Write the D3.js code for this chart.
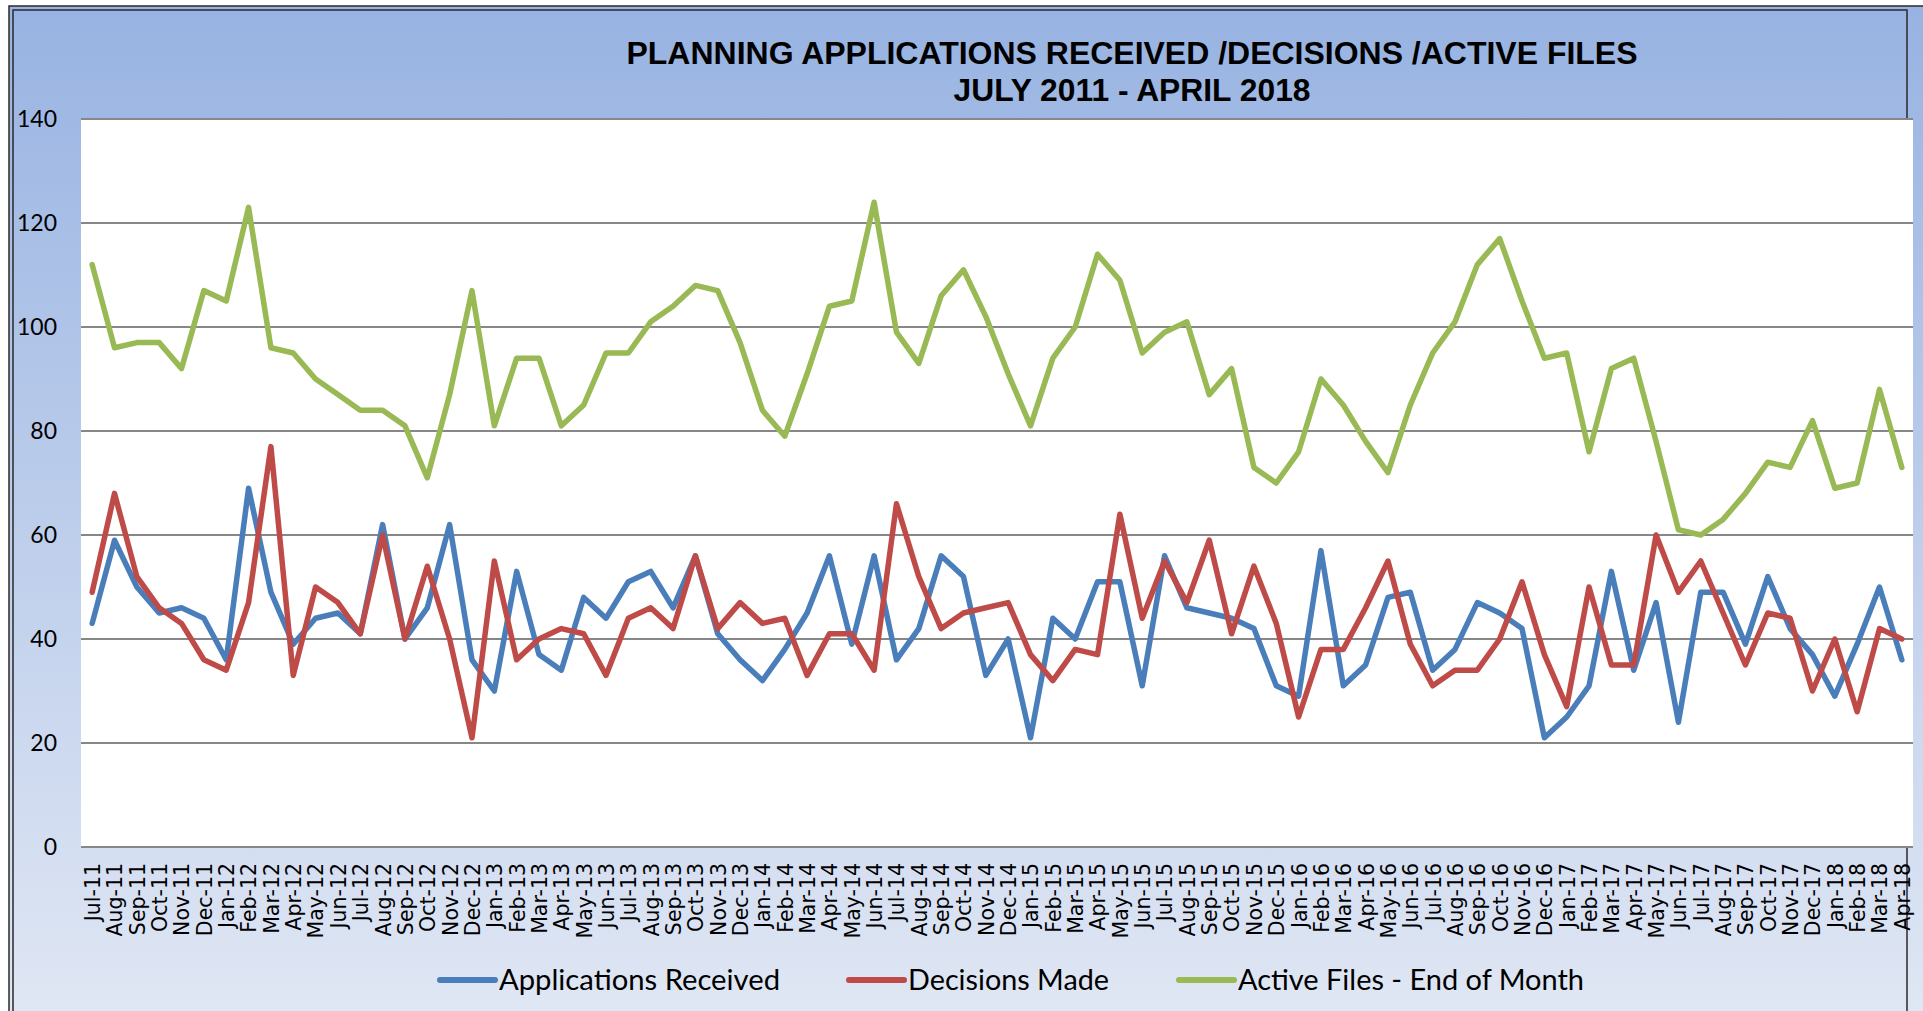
<!DOCTYPE html>
<html>
<head>
<meta charset="utf-8">
<script src="https://cdn.jsdelivr.net/npm/d3@7"></script>
<style>
  html, body { margin: 0; padding: 0; background: #ffffff; overflow: hidden; }
</style>
</head>
<body>
<div id="chart"></div>
<script>
// data
const months = ["Jul-11","Aug-11","Sep-11","Oct-11","Nov-11","Dec-11",
    "Jan-12","Feb-12","Mar-12","Apr-12","May-12","Jun-12","Jul-12","Aug-12","Sep-12","Oct-12","Nov-12","Dec-12",
    "Jan-13","Feb-13","Mar-13","Apr-13","May-13","Jun-13","Jul-13","Aug-13","Sep-13","Oct-13","Nov-13","Dec-13",
    "Jan-14","Feb-14","Mar-14","Apr-14","May-14","Jun-14","Jul-14","Aug-14","Sep-14","Oct-14","Nov-14","Dec-14",
    "Jan-15","Feb-15","Mar-15","Apr-15","May-15","Jun-15","Jul-15","Aug-15","Sep-15","Oct-15","Nov-15","Dec-15",
    "Jan-16","Feb-16","Mar-16","Apr-16","May-16","Jun-16","Jul-16","Aug-16","Sep-16","Oct-16","Nov-16","Dec-16",
    "Jan-17","Feb-17","Mar-17","Apr-17","May-17","Jun-17","Jul-17","Aug-17","Sep-17","Oct-17","Nov-17","Dec-17",
    "Jan-18","Feb-18","Mar-18","Apr-18"];

const applicationsReceived = [43,59,50,45,46,44, 36,69,49,39,44,45,41,62,40,46,62,36,
    30,53,37,34,48,44,51,53,46,56,41,36, 32,38,45,56,39,56,36,42,56,52,33,40,
    21,44,40,51,51,31,56,46,45,44,42,31, 29,57,31,35,48,49,34,38,47,45,42,21,
    25,31,53,34,47,24,49,49,39,52,42,37, 29,39,50,36];

const decisionsMade = [49,68,52,46,43,36, 34,47,77,33,50,47,41,60,40,54,40,21,
    55,36,40,42,41,33,44,46,42,56,42,47, 43,44,33,41,41,34,66,52,42,45,46,47,
    37,32,38,37,64,44,55,47,59,41,54,43, 25,38,38,46,55,39,31,34,34,40,51,37,
    27,50,35,35,60,49,55,45,35,45,44,30, 40,26,42,40];

const activeFiles = [112,96,97,97,92,107, 105,123,96,95,90,87,84,84,81,71,87,107,
    81,94,94,81,85,95,95,101,104,108,107,97, 84,79,91,104,105,124,99,93,106,111,102,91,
    81,94,100,114,109,95,99,101,87,92,73,70, 76,90,85,78,72,85,95,101,112,117,105,94,
    95,76,92,94,78,61,60,63,68,74,73,82, 69,70,88,73];

const yTicks = [0,20,40,60,80,100,120,140];
const seriesNames = ["Applications Received","Decisions Made","Active Files - End of Month"];
const titleLines = ["PLANNING APPLICATIONS RECEIVED /DECISIONS /ACTIVE FILES","JULY 2011 - APRIL 2018"];

const outerWidth = 1923;
const outerHeight = 1011;
const plot = {left: 81, right: 1913, top: 119, bottom: 847};

const svg = d3.select("#chart")
    .append("svg")
    .attr("width", outerWidth)
    .attr("height", outerHeight);

// background gradient
const defs = svg.append("defs");
const grad = defs.append("linearGradient")
    .attr("id", "bg")
    .attr("x1", 0).attr("y1", 0).attr("x2", 0).attr("y2", 1);
grad.append("stop").attr("offset", "0%").attr("stop-color", "#98b3e2");
grad.append("stop").attr("offset", "100%").attr("stop-color", "#e0e7f4");

svg.append("rect")
    .attr("x", 9).attr("y", 6)
    .attr("width", outerWidth).attr("height", outerHeight)
    .attr("fill", "url(#bg)")
    .attr("stroke", "#2a2a2a")
    .attr("stroke-width", 1.5);
svg.append("rect")
    .attr("x", 13).attr("y", 10)
    .attr("width", 1907 - 13).attr("height", outerHeight)
    .attr("fill", "none")
    .attr("stroke", "#2a2a2a")
    .attr("stroke-width", 1.5);

// plot area
svg.append("rect")
    .attr("x", plot.left).attr("y", plot.top)
    .attr("width", plot.right - plot.left)
    .attr("height", plot.bottom - plot.top)
    .attr("fill", "#ffffff");

const xScale = d3.scalePoint()
    .domain(months)
    .range([plot.left, plot.right])
    .padding(0.5);

const yScale = d3.scaleLinear()
    .domain([0, 140])
    .range([plot.bottom, plot.top]);

// gridlines
svg.append("g")
    .attr("class", "grid")
    .selectAll("line")
    .data(yTicks)
    .join("line")
        .attr("x1", plot.left)
        .attr("x2", plot.right)
        .attr("y1", d => yScale(d))
        .attr("y2", d => yScale(d))
        .attr("stroke", "#878787")
        .attr("stroke-width", 2);

// y axis labels
const yAxis = d3.axisLeft(yScale)
    .tickValues(yTicks)
    .tickSize(0)
    .tickPadding(0);
svg.append("g")
    .attr("class", "axis-y-axis")
    .attr("transform", "translate(57,0)")
    .call(yAxis)
    .call(g => g.select(".domain").remove())
    .selectAll("text")
        .attr("font-family", "Lato, 'Open Sans', sans-serif")
        .attr("font-size", 23)
        .attr("fill", "#000");

// x axis labels
const xAxis = d3.axisBottom(xScale)
    .tickSize(0)
    .tickPadding(0);
svg.append("g")
    .attr("class", "axis-x-axis")
    .attr("transform", `translate(0, ${plot.bottom})`)
    .call(xAxis)
    .call(g => g.select(".domain").remove())
    .selectAll("text")
        .attr("font-family", "'DejaVu Sans', sans-serif")
        .attr("font-size", 20.5)
        .attr("fill", "#000")
        .attr("text-anchor", "end")
        .attr("transform", "rotate(-90)")
        .attr("x", -16)
        .attr("y", 0)
        .attr("dy", "0.36em");

// lines
const colors = ["#4a7ebb", "#be4b48", "#98b954"];
const allSeries = [applicationsReceived, decisionsMade, activeFiles];

const line = d3.line()
    .x((d, i) => xScale(months[i]))
    .y(d => yScale(d));

svg.append("g")
    .attr("class", "series")
    .selectAll("path")
    .data(allSeries)
    .join("path")
        .attr("d", line)
        .attr("fill", "none")
        .attr("stroke", (d, i) => colors[i])
        .attr("stroke-width", 5.5)
        .attr("stroke-linejoin", "round")
        .attr("stroke-linecap", "round");

// title
const titleFont = "'Liberation Sans Narrow', 'Arial Narrow', 'Liberation Sans', sans-serif";
const titleWidths = [1011, 357];
svg.append("g")
    .selectAll("text")
    .data(titleLines)
    .join("text")
        .attr("x", 1132)
        .attr("y", (d, i) => 64 + i * 37)
        .attr("text-anchor", "middle")
        .attr("font-family", titleFont)
        .attr("font-weight", "bold")
        .attr("font-size", 31)
        .attr("textLength", (d, i) => titleWidths[i])
        .attr("lengthAdjust", "spacingAndGlyphs")
        .text(d => d);

// legend
const legendX = [440, 849, 1179];
const legendTextW = [281, 201, 346];
const legend = svg.append("g")
    .attr("class", "legend")
    .selectAll("g")
    .data(seriesNames)
    .join("g")
        .attr("transform", (d, i) => `translate(${legendX[i]}, 980)`);

legend.append("line")
    .attr("x1", 0).attr("x2", 55)
    .attr("y1", 0).attr("y2", 0)
    .attr("stroke", (d, i) => colors[i])
    .attr("stroke-width", 6)
    .attr("stroke-linecap", "round");

legend.append("text")
    .attr("x", 59)
    .attr("y", 0)
    .attr("dy", "0.36em")
    .attr("font-family", "Lato, 'Open Sans', sans-serif")
    .attr("font-size", 29)
    .attr("textLength", (d, i) => legendTextW[i])
    .attr("lengthAdjust", "spacingAndGlyphs")
    .text(d => d);
</script>
</body>
</html>
